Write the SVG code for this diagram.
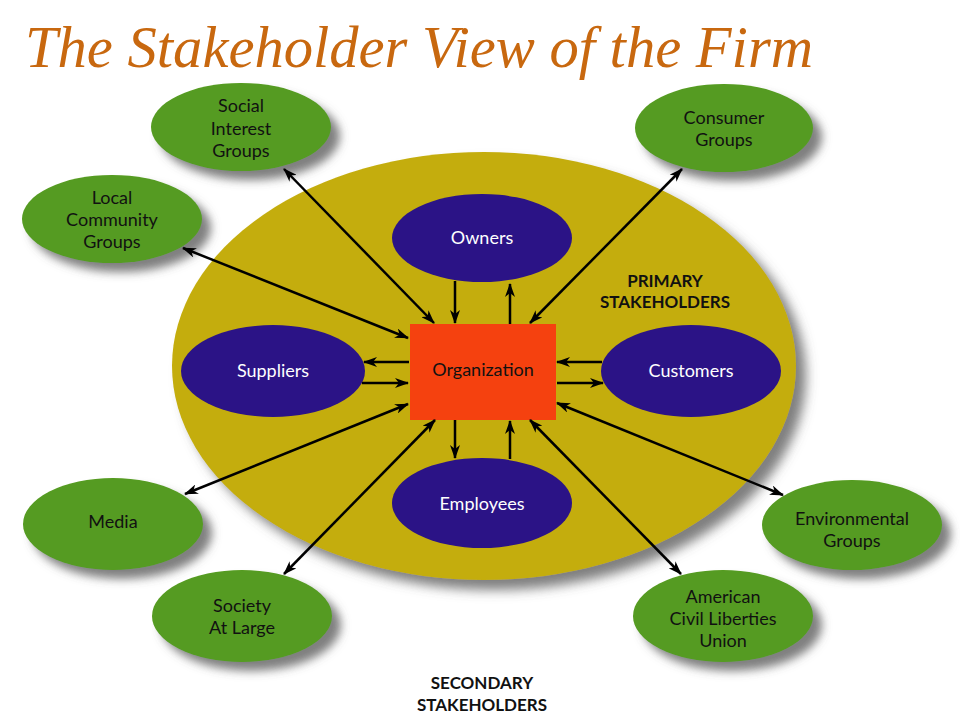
<svg xmlns="http://www.w3.org/2000/svg" width="960" height="720" viewBox="0 0 960 720">
  <defs>
    <filter id="shadow" x="-20%" y="-20%" width="150%" height="150%">
      <feDropShadow dx="9" dy="9" stdDeviation="5" flood-color="#555" flood-opacity="0.75"/>
    </filter>
    <filter id="bigshadow" x="-10%" y="-10%" width="130%" height="130%">
      <feDropShadow dx="10" dy="10" stdDeviation="6" flood-color="#555" flood-opacity="0.75"/>
    </filter>
    <marker id="arr" viewBox="0 0 14 10" markerWidth="14" markerHeight="10" refX="13" refY="5" orient="auto-start-reverse" markerUnits="userSpaceOnUse">
      <path d="M0,0 L14,5 L0,10 L4,5 Z" fill="#000"/>
    </marker>
  </defs>
  <style>
    .title { font-family: "Liberation Serif", serif; font-style: italic; font-size: 59px; fill: #C8680F; }
    .green { fill: #559B20; filter: url(#shadow); }
    .blue { fill: #2B1386; }
    .lbl { font-family: Lato, "Open Sans", sans-serif; font-size: 18px; text-anchor: middle; fill: #111; }
    .wlbl { font-family: Lato, "Open Sans", sans-serif; font-size: 18px; text-anchor: middle; fill: #fff; }
    .bold { font-family: Lato, "Open Sans", sans-serif; font-weight: bold; font-size: 17px; text-anchor: middle; fill: #111; }
    .conn line { stroke: #000; stroke-width: 2.5; }
  </style>
  <rect width="960" height="720" fill="#fff"/>
  <text class="title" x="25" y="67" textLength="788" lengthAdjust="spacingAndGlyphs">The Stakeholder View of the Firm</text>

  <g id="primary-area">
    <ellipse cx="484" cy="366" rx="312" ry="214" fill="#C4AD0C" filter="url(#bigshadow)"/>
    <text class="bold" x="665" y="287">PRIMARY</text>
    <text class="bold" x="665" y="308">STAKEHOLDERS</text>
  </g>

  <g id="social-interest">
    <ellipse class="green" cx="241" cy="127" rx="90" ry="44"/>
    <text class="lbl" x="241" y="112">Social</text>
    <text class="lbl" x="241" y="135">Interest</text>
    <text class="lbl" x="241" y="157">Groups</text>
  </g>
  <g id="local-community">
    <ellipse class="green" cx="112" cy="219" rx="90" ry="44"/>
    <text class="lbl" x="112" y="204">Local</text>
    <text class="lbl" x="112" y="226">Community</text>
    <text class="lbl" x="112" y="248">Groups</text>
  </g>
  <g id="consumer-groups">
    <ellipse class="green" cx="724" cy="128" rx="89" ry="44"/>
    <text class="lbl" x="724" y="124">Consumer</text>
    <text class="lbl" x="724" y="146">Groups</text>
  </g>
  <g id="media">
    <ellipse class="green" cx="113" cy="524" rx="90" ry="46"/>
    <text class="lbl" x="113" y="528">Media</text>
  </g>
  <g id="society">
    <ellipse class="green" cx="242" cy="616" rx="90" ry="46"/>
    <text class="lbl" x="242" y="612">Society</text>
    <text class="lbl" x="242" y="634">At Large</text>
  </g>
  <g id="environmental">
    <ellipse class="green" cx="852" cy="525" rx="90" ry="45"/>
    <text class="lbl" x="852" y="525">Environmental</text>
    <text class="lbl" x="852" y="547">Groups</text>
  </g>
  <g id="aclu">
    <ellipse class="green" cx="723" cy="616" rx="90" ry="46"/>
    <text class="lbl" x="723" y="603">American</text>
    <text class="lbl" x="723" y="625">Civil Liberties</text>
    <text class="lbl" x="723" y="647">Union</text>
  </g>

  <g id="owners">
    <ellipse class="blue" cx="482" cy="238" rx="90" ry="44"/>
    <text class="wlbl" x="482" y="244">Owners</text>
  </g>
  <g id="suppliers">
    <ellipse class="blue" cx="273" cy="371" rx="92" ry="46"/>
    <text class="wlbl" x="273" y="377">Suppliers</text>
  </g>
  <g id="customers">
    <ellipse class="blue" cx="691" cy="371" rx="90" ry="46"/>
    <text class="wlbl" x="691" y="377">Customers</text>
  </g>
  <g id="employees">
    <ellipse class="blue" cx="482" cy="503" rx="90" ry="45"/>
    <text class="wlbl" x="482" y="510">Employees</text>
  </g>
  <g id="organization">
    <rect x="410" y="324" width="146" height="96" fill="#F5410F"/>
    <text class="lbl" x="483" y="376">Organization</text>
  </g>

  <g id="connectors" class="conn">
    <line x1="455" y1="281" x2="455" y2="323" marker-end="url(#arr)"/>
    <line x1="510" y1="324" x2="510" y2="284" marker-end="url(#arr)"/>
    <line x1="455" y1="420" x2="455" y2="458" marker-end="url(#arr)"/>
    <line x1="510" y1="459" x2="510" y2="421" marker-end="url(#arr)"/>
    <line x1="409" y1="362" x2="364" y2="362" marker-end="url(#arr)"/>
    <line x1="362" y1="383" x2="408" y2="383" marker-end="url(#arr)"/>
    <line x1="602" y1="362" x2="557" y2="362" marker-end="url(#arr)"/>
    <line x1="557" y1="383" x2="603" y2="383" marker-end="url(#arr)"/>
    <line x1="284" y1="169" x2="434" y2="323" marker-start="url(#arr)" marker-end="url(#arr)"/>
    <line x1="183" y1="248" x2="408" y2="338" marker-start="url(#arr)" marker-end="url(#arr)"/>
    <line x1="682" y1="169" x2="530" y2="323" marker-start="url(#arr)" marker-end="url(#arr)"/>
    <line x1="185" y1="494" x2="408" y2="404" marker-start="url(#arr)" marker-end="url(#arr)"/>
    <line x1="284" y1="574" x2="435" y2="420" marker-start="url(#arr)" marker-end="url(#arr)"/>
    <line x1="783" y1="495" x2="557" y2="403" marker-start="url(#arr)" marker-end="url(#arr)"/>
    <line x1="681" y1="574" x2="530" y2="420" marker-start="url(#arr)" marker-end="url(#arr)"/>
  </g>

  <g id="secondary-label">
    <text class="bold" x="482" y="689">SECONDARY</text>
    <text class="bold" x="482" y="711">STAKEHOLDERS</text>
  </g>
</svg>
